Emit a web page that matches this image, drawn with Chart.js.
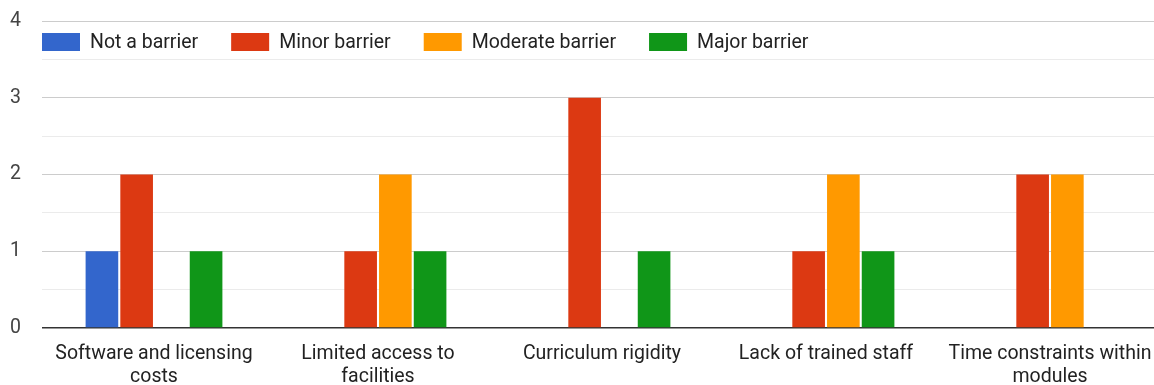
<!DOCTYPE html>
<html><head><meta charset="utf-8">
<script src="https://cdn.jsdelivr.net/npm/chart.js@4.4.0/dist/chart.umd.min.js"></script>
<style>html,body{margin:0;padding:0;overflow:hidden;background:#fff}canvas{display:block}</style>
</head><body>
<canvas id="c" width="1170" height="385"></canvas>
<script>
const categories = [["Software and licensing","costs"],["Limited access to","facilities"],"Curriculum rigidity","Lack of trained staff",["Time constraints within","modules"]];
const seriesNames = ["Not a barrier","Minor barrier","Moderate barrier","Major barrier"];
const notABarrier = [1,0,0,0,0];
const minorBarrier = [2,1,3,1,2];
const moderateBarrier = [0,2,0,2,2];
const majorBarrier = [1,1,1,1,0];
const yTickLabels = [0,1,2,3,4];
const seriesColors = ['#3366cc','#dc3912','#ff9900','#109618'];

const seriesValues = [notABarrier, minorBarrier, moderateBarrier, majorBarrier];

const insideLegend = {
  id: 'insideLegend',
  afterDraw(chart) {
    const {ctx, chartArea} = chart;
    ctx.save();
    ctx.font = '19.5px Roboto';
    ctx.textBaseline = 'middle';
    ctx.textAlign = 'left';
    let x = chartArea.left;
    const y = chartArea.top + 12;
    chart.data.datasets.forEach(ds => {
      ctx.fillStyle = ds.backgroundColor;
      ctx.fillRect(x, y, 38, 18);
      ctx.fillStyle = '#222';
      ctx.fillText(ds.label, x + 48, y + 10);
      x += 48 + ctx.measureText(ds.label).width + 33;
    });
    ctx.restore();
  }
};

new Chart(document.getElementById('c'), {
  type: 'bar',
  data: {
    labels: categories,
    datasets: seriesNames.map((name, i) => ({
      label: name,
      data: seriesValues[i],
      backgroundColor: seriesColors[i],
      borderWidth: 0,
      categoryPercentage: 0.62,
      barPercentage: 0.94
    }))
  },
  options: {
    responsive: false,
    animation: false,
    events: [],
    layout: { padding: { top: 21, right: 8, bottom: 0, left: 0 } },
    plugins: { legend: { display: false }, tooltip: { enabled: false } },
    scales: {
      x: {
        grid: { display: false },
        border: { display: false },
        ticks: { font: { family: 'Roboto', size: 19.5 }, color: '#222', padding: 6, maxRotation: 0, autoSkip: false },
        afterFit(s) { s.height = 57; }
      },
      y: {
        min: 0, max: 4,
        border: { display: false },
        grid: {
          drawTicks: false,
          color: c => c.tick.value === 0 ? '#333' : (yTickLabels.includes(c.tick.value) ? '#cccccc' : '#ebebeb'),
          lineWidth: c => c.tick.value === 0 ? 1.5 : 1
        },
        ticks: {
          stepSize: 0.5,
          padding: 21,
          font: { family: 'Roboto', size: 19.5 },
          color: '#444',
          callback: v => yTickLabels.includes(v) ? String(v) : ''
        },
        afterFit(s) { s.width = 42; s.paddingTop = 0; s.paddingBottom = 0; }
      }
    }
  },
  plugins: [insideLegend]
});
</script>
</body></html>
